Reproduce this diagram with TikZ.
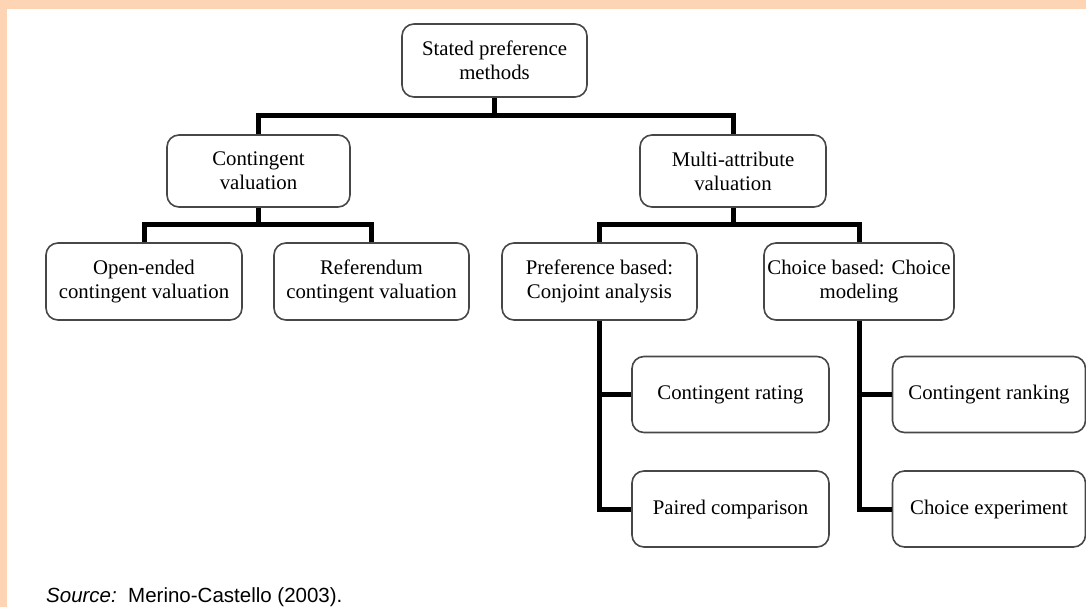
\documentclass[tikz,border=0pt]{standalone}
\usepackage{fontspec}
\setmainfont{Liberation Serif}
\newfontfamily\sourcefont{Liberation Sans}
\definecolor{peach}{RGB}{253,213,181}
\tikzset{
  box/.style={draw=black!72, line width=1.6pt, rounded corners=12pt, fill=white,
    align=center, inner sep=2pt, font=\fontsize{20.8}{24}\selectfont},
  conn/.style={line width=5pt, black}
}
\begin{document}
\begin{tikzpicture}[x=1pt, y=-1pt]
  % Hintergrund und Rand
  \useasboundingbox (0,0) rectangle (1086,607);
  \fill[peach] (0,0) rectangle (1086,607);
  \fill[white] (7,9) rectangle (1086,607);

  % Wurzel
  \node[box, minimum width=185pt, minimum height=73pt] (root) at (494.5,60.5) {Stated preference\\methods};

  % Zweite Ebene
  \node[box, minimum width=183pt, minimum height=72pt] (cv) at (258.5,171) {Contingent\\valuation};
  \node[box, minimum width=186pt, minimum height=72pt] (mav) at (733,171) {Multi-attribute\\valuation};

  % Dritte Ebene
  \node[box, minimum width=196pt, minimum height=77pt] (open) at (144,281.5) {Open-ended\\contingent valuation};
  \node[box, minimum width=195pt, minimum height=77pt] (refer) at (371.5,281.5) {Referendum\\contingent valuation};
  \node[box, minimum width=195pt, minimum height=77pt] (pref) at (599.5,281.5) {Preference based:\\Conjoint analysis};
  \node[box, minimum width=190pt, minimum height=77pt] (choice) at (859,281.5) {Choice based: Choice\\modeling};

  % Vierte Ebene
  \node[box, minimum width=197pt, minimum height=76pt] (rating) at (730.5,394.5) {Contingent rating};
  \node[box, minimum width=197pt, minimum height=76pt] (paired) at (730.5,509) {Paired comparison};
  \node[box, minimum width=193pt, minimum height=76pt] (ranking) at (989,394.5) {Contingent ranking};
  \node[box, minimum width=193pt, minimum height=76pt] (exper) at (989,509) {Choice experiment};

  % Verbindungen
  \draw[conn] (root.south) -- ++(0,18) -| (cv.north);
  \draw[conn] (root.south) -- ++(0,18) -| (mav.north);
  \draw[conn] (cv.south) -- ++(0,17) -| (open.north);
  \draw[conn] (cv.south) -- ++(0,17) -| (refer.north);
  \draw[conn] (mav.south) -- ++(0,17) -| (pref.north);
  \draw[conn] (mav.south) -- ++(0,17) -| (choice.north);
  \draw[conn] (pref.south) |- (rating.west);
  \draw[conn] (pref.south) |- (paired.west);
  \draw[conn] (choice.south) |- (ranking.west);
  \draw[conn] (choice.south) |- (exper.west);

  % Quelle
  \node[anchor=base west, inner sep=0pt, font=\sourcefont\fontsize{20.5}{24}\selectfont] (src) at (46,602)
    {\textit{Source:}\ \ Merino-Castello (2003).};
\end{tikzpicture}
\end{document}
